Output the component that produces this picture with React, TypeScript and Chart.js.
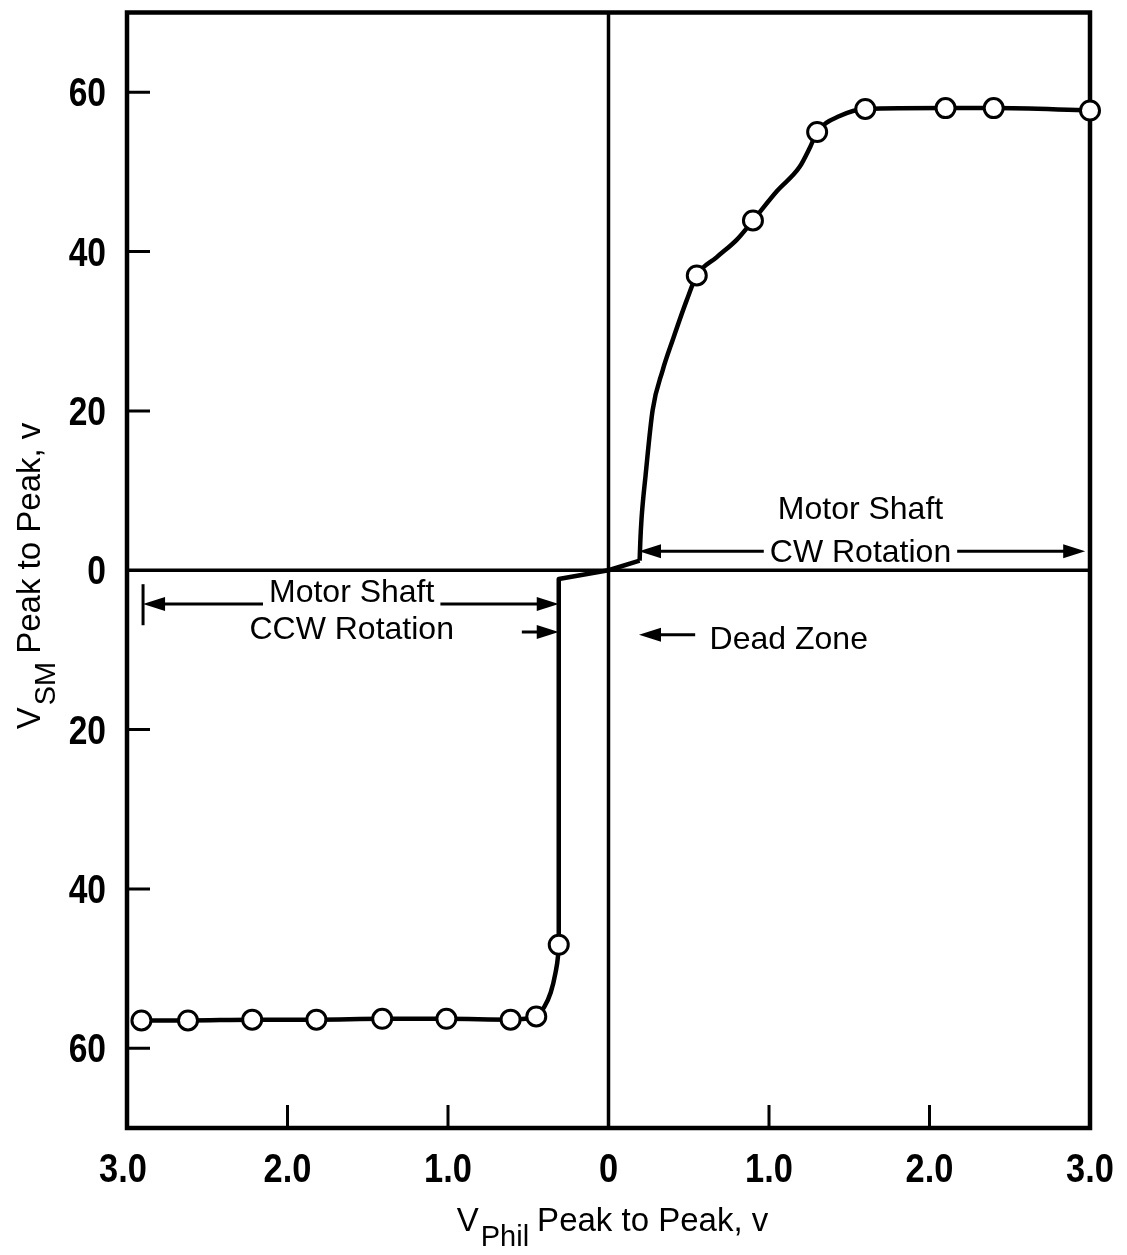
import React, { useEffect, useRef } from "react";
import { Chart, registerables } from "chart.js";

Chart.register(...registerables);

// ---- axis ticks ----
const xTickValues = [-3, -2, -1, 0, 1, 2, 3];
const xTickLabels = ["3.0", "2.0", "1.0", "0", "1.0", "2.0", "3.0"];
const yTickValues = [-60, -40, -20, 0, 20, 40, 60];
const yTickLabels = ["60", "40", "20", "0", "20", "40", "60"];

// ---- measured points (circles) ----
const pointsX = [-2.91, -2.62, -2.22, -1.82, -1.41, -1.01, -0.61, -0.45, -0.31, 0.55, 0.9, 1.3, 1.6, 2.1, 2.4, 3.0];
const pointsY = [-56.5, -56.5, -56.4, -56.4, -56.3, -56.3, -56.4, -56.0, -47.0, 37.0, 43.9, 55.0, 57.9, 58.0, 58.0, 57.7];

// ---- faired curve ----
const ccwCurveX = [-2.91, -2.62, -2.22, -1.82, -1.41, -1.01, -0.61, -0.45, -0.4, -0.36, -0.33, -0.315, -0.31];
const ccwCurveY = [-56.5, -56.5, -56.4, -56.4, -56.3, -56.3, -56.4, -56.0, -54.8, -53.0, -50.5, -48.5, -47.0];
const deadZoneX = [-0.31, -0.31, 0, 0.194];
const deadZoneY = [-47.0, -1.1, 0, 1.2];
const cwCurveX = [0.194, 0.198, 0.206, 0.231, 0.275, 0.3375, 0.4, 0.4875, 0.55, 0.675, 0.8, 0.9, 1.05, 1.19, 1.256, 1.3, 1.44, 1.6, 2.1, 2.4, 3.0];
const cwCurveY = [1.2, 3.5, 6.5, 11.9, 20.1, 25.1, 28.9, 33.9, 37.0, 39.3, 41.5, 43.9, 47.6, 50.6, 53.1, 55.0, 57.0, 57.9, 58.0, 58.0, 57.7];

const zip = (xs: number[], ys: number[]) => xs.map((x, i) => ({ x, y: ys[i] }));

const TICK_FONT = "'Liberation Sans', 'DejaVu Sans', sans-serif";
const TEXT_FONT = "'Liberation Sans', 'DejaVu Sans', sans-serif";

function arrowHead(ctx: CanvasRenderingContext2D, tipX: number, tipY: number, dir: number) {
  ctx.beginPath();
  ctx.moveTo(tipX, tipY);
  ctx.lineTo(tipX - dir * 22, tipY - 7);
  ctx.lineTo(tipX - dir * 22, tipY + 7);
  ctx.closePath();
  ctx.fill();
}

function condensedText(ctx: CanvasRenderingContext2D, t: string, x: number, y: number, align: "center" | "right", sx: number) {
  const w = ctx.measureText(t).width * sx;
  const left = align === "center" ? x - w / 2 : x - w;
  ctx.save();
  ctx.translate(left, y);
  ctx.scale(sx, 1);
  ctx.textAlign = "left";
  ctx.fillText(t, 0, 0);
  ctx.restore();
}

const framePlugin = {
  id: "frameAxes",
  beforeDatasetsDraw(chart: any) {
    const { ctx, chartArea: a, scales } = chart;
    const xs = scales.x, ys = scales.y;
    ctx.save();
    ctx.strokeStyle = "#000";
    ctx.lineCap = "butt";
    ctx.lineWidth = 3.5;
    const x0 = xs.getPixelForValue(0);
    const y0 = ys.getPixelForValue(0);
    ctx.beginPath();
    ctx.moveTo(x0, a.top);
    ctx.lineTo(x0, a.bottom);
    ctx.moveTo(a.left, y0);
    ctx.lineTo(a.right, y0);
    ctx.stroke();
    ctx.lineWidth = 3;
    ctx.beginPath();
    for (const v of xTickValues) {
      const px = xs.getPixelForValue(v);
      if (v === 0 || px <= a.left + 2 || px >= a.right - 2) continue;
      ctx.moveTo(px, a.bottom);
      ctx.lineTo(px, a.bottom - 23);
    }
    for (const v of yTickValues) {
      if (v === 0) continue;
      const py = ys.getPixelForValue(v);
      ctx.moveTo(a.left, py);
      ctx.lineTo(a.left + 23, py);
    }
    ctx.stroke();
    ctx.lineWidth = 4.5;
    ctx.strokeRect(a.left, a.top, a.right - a.left, a.bottom - a.top);

    // tick labels (condensed bold)
    ctx.fillStyle = "#000";
    ctx.font = `bold 40px ${TICK_FONT}`;
    ctx.textBaseline = "alphabetic";
    xTickValues.forEach((v, i) => {
      condensedText(ctx, xTickLabels[i], xs.getPixelForValue(v) - (i === 0 ? 4 : 0), a.bottom + 54, "center", 0.86);
    });
    yTickValues.forEach((v, i) => {
      condensedText(ctx, yTickLabels[i], a.left - 21, ys.getPixelForValue(v) + 14, "right", 0.84);
    });
    ctx.restore();
  },
  afterDatasetsDraw(chart: any) {
    const { ctx, scales } = chart;
    const X = (v: number) => scales.x.getPixelForValue(v);
    const Y = (v: number) => scales.y.getPixelForValue(v);
    ctx.save();
    ctx.fillStyle = "#000";
    ctx.strokeStyle = "#000";
    ctx.lineWidth = 3;
    ctx.font = `32px ${TEXT_FONT}`;
    ctx.textBaseline = "alphabetic";
    ctx.textAlign = "center";

    const label = (t: string, cx: number, by: number) => {
      ctx.fillText(t, X(cx), Y(by));
      return ctx.measureText(t).width;
    };
    const seg = (x1: number, x2: number, py: number) => {
      ctx.beginPath();
      ctx.moveTo(x1, py);
      ctx.lineTo(x2, py);
      ctx.stroke();
    };

    // CW rotation
    label("Motor Shaft", 1.57, 6.4);
    const wCw = label("CW Rotation", 1.57, 1.0);
    const cwY = Y(2.4);
    seg(X(0.19) + 10, X(1.57) - wCw / 2 - 6, cwY);
    seg(X(1.57) + wCw / 2 + 6, X(2.97) - 10, cwY);
    arrowHead(ctx, X(0.19), cwY, -1);
    arrowHead(ctx, X(2.97), cwY, 1);

    // CCW rotation
    const wCcw = label("Motor Shaft", -1.6, -4.0);
    label("CCW Rotation", -1.6, -8.6);
    const ccwY = Y(-4.25);
    seg(X(-2.9) + 10, X(-1.6) - wCcw / 2 - 6, ccwY);
    seg(X(-1.6) + wCcw / 2 + 6, X(-0.31) - 10, ccwY);
    arrowHead(ctx, X(-2.9), ccwY, -1);
    arrowHead(ctx, X(-0.31), ccwY, 1);
    ctx.beginPath();
    ctx.moveTo(X(-2.9), Y(-1.75));
    ctx.lineTo(X(-2.9), Y(-6.9));
    ctx.stroke();

    // small arrow into CCW step
    const sY = Y(-7.75);
    seg(X(-0.54), X(-0.31) - 10, sY);
    arrowHead(ctx, X(-0.31), sY, 1);

    // dead zone
    const dY = Y(-8.1);
    seg(X(0.54), X(0.19) + 10, dY);
    arrowHead(ctx, X(0.19), dY, -1);
    ctx.textAlign = "left";
    ctx.fillText("Dead Zone", X(0.63), Y(-9.9));
    ctx.restore();
  },
  afterDraw(chart: any) {
    const { ctx, chartArea: a } = chart;
    ctx.save();
    ctx.fillStyle = "#000";
    ctx.textBaseline = "alphabetic";
    ctx.textAlign = "left";
    const mainFont = `33px ${TEXT_FONT}`;
    const subFont = `29px ${TEXT_FONT}`;

    const drawTitle = (main0: string, sub: string, rest: string, cx: number, baseY: number) => {
      ctx.font = mainFont;
      const w0 = ctx.measureText(main0).width;
      const wr = ctx.measureText(rest).width;
      ctx.font = subFont;
      const ws = ctx.measureText(sub).width;
      const total = w0 + 2 + ws + 8 + wr;
      let x = cx - total / 2;
      ctx.font = mainFont;
      ctx.fillText(main0, x, baseY);
      x += w0 + 2;
      ctx.font = subFont;
      ctx.fillText(sub, x, baseY + 15);
      x += ws + 8;
      ctx.font = mainFont;
      ctx.fillText(rest, x, baseY);
    };

    // x title
    drawTitle("V", "Phil", "Peak to Peak, v", (a.left + a.right) / 2 + 4, 1231);

    // y title (rotated)
    ctx.translate(40, 576);
    ctx.rotate(-Math.PI / 2);
    drawTitle("V", "SM", "Peak to Peak, v", 0, 0);
    ctx.restore();
  },
};

export default function App() {
  const ref = useRef<HTMLCanvasElement | null>(null);
  useEffect(() => {
    if (!ref.current) return;
    const lineStyle = {
      showLine: true,
      borderColor: "#000",
      borderWidth: 4.5,
      borderJoinStyle: "round",
      pointRadius: 0,
      pointHoverRadius: 0,
      fill: false,
      order: 2,
      clip: 10,
    };
    const chart = new Chart(ref.current, {
      type: "scatter",
      data: {
        datasets: [
          {
            label: "points",
            data: zip(pointsX, pointsY),
            pointRadius: 9.5,
            pointBorderWidth: 3,
            pointBackgroundColor: "#fff",
            pointBorderColor: "#000",
            showLine: false,
            order: 0,
            clip: 14,
          } as any,
          { ...lineStyle, label: "ccw", data: zip(ccwCurveX, ccwCurveY), cubicInterpolationMode: "monotone" } as any,
          { ...lineStyle, label: "dead", data: zip(deadZoneX, deadZoneY), tension: 0 } as any,
          { ...lineStyle, label: "cw", data: zip(cwCurveX, cwCurveY), cubicInterpolationMode: "monotone" } as any,
        ],
      },
      options: {
        responsive: false,
        animation: false,
        events: [],
        layout: { padding: { top: 8, right: 37, left: 0, bottom: 0 } },
        plugins: { legend: { display: false }, tooltip: { enabled: false }, title: { display: false } },
        scales: {
          x: {
            type: "linear",
            min: -3,
            max: 3,
            afterBuildTicks: (s: any) => {
              s.ticks = xTickValues.map((v) => ({ value: v }));
            },
            afterFit: (s: any) => {
              s.height = 127;
              s.paddingLeft = 0;
              s.paddingRight = 0;
              s.paddingTop = 0;
              s.paddingBottom = 0;
            },
            grid: { display: false, drawTicks: false },
            border: { display: false },
            ticks: { display: false },
          },
          y: {
            type: "linear",
            min: -70,
            max: 70,
            afterBuildTicks: (s: any) => {
              s.ticks = yTickValues.map((v) => ({ value: v }));
            },
            afterFit: (s: any) => {
              s.width = 127;
              s.paddingLeft = 0;
              s.paddingRight = 0;
              s.paddingTop = 0;
              s.paddingBottom = 0;
            },
            grid: { display: false, drawTicks: false },
            border: { display: false },
            ticks: { display: false },
          },
        },
      } as any,
      plugins: [framePlugin],
    });
    return () => chart.destroy();
  }, []);
  return (
    <div style={{ position: "fixed", left: 0, top: 0, width: 1127, height: 1255, background: "#fff" }}>
      <canvas ref={ref} width={1127} height={1255} style={{ display: "block" }} />
    </div>
  );
}
